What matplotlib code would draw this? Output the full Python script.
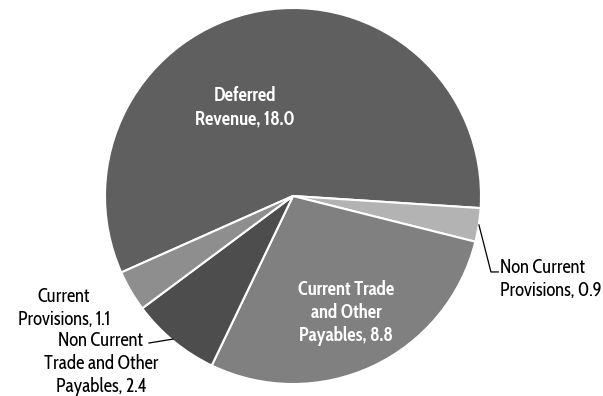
import matplotlib
matplotlib.use("Agg")
import matplotlib.pyplot as plt
from matplotlib import font_manager

# ── Daten ──────────────────────────────────────────────────────────
categories = ["Deferred Revenue", "Non Current Provisions",
              "Current Trade and Other Payables",
              "Non Current Trade and Other Payables", "Current Provisions"]
values = [18.0, 0.9, 8.8, 2.4, 1.1]
label_texts = ["Deferred\nRevenue, 18.0",
               "Non Current\nProvisions, 0.9",
               "Current Trade\nand Other\nPayables, 8.8",
               "Non Current\nTrade and Other\nPayables, 2.4",
               "Current\nProvisions, 1.1"]
colors = ["#5f5f5f", "#b3b3b3", "#808080", "#4d4d4d", "#8e8e8e"]

installed = {f.name for f in font_manager.fontManager.ttflist}
family = next((f for f in ["Cabin Condensed", "Carlito", "Liberation Sans"]
               if f in installed), "DejaVu Sans")
plt.rcParams["font.family"] = [family, "DejaVu Sans"]

fig = plt.figure(figsize=(6.03, 3.96), dpi=100, facecolor="white")
ax = fig.add_axes([0, 0, 1, 1])
# Pixelraster: Mittelpunkt (293,196), Radius 188 px
R = 188.0

ax.pie(values, colors=colors, startangle=204, counterclock=False,
       radius=1.0, center=(0, 0), frame=True,
       wedgeprops=dict(edgecolor="white", linewidth=1.5))
ax.set_aspect("equal")
ax.axis("off")
ax.set_xlim(-293 / R, (603 - 293) / R)
ax.set_ylim(-(396 - 196) / R, 196 / R)

fs = 13.5
ls = 1.2
# ── Innenbeschriftungen ────────────────────────────────────────────
ax.text(-0.255, 0.47, label_texts[0], ha="center", va="center",
        fontsize=fs, color="white", fontweight="bold", linespacing=ls)
ax.text(0.282, -0.62, label_texts[2], ha="center", va="center",
        fontsize=fs, color="white", fontweight="bold", linespacing=ls)

# ── Außenbeschriftungen mit Führungslinien ─────────────────────────
ax.text(1.10, -0.445, label_texts[1], ha="left", va="center",
        fontsize=fs, color="black", linespacing=ls)
ax.plot([0.989, 1.053, 1.092], [-0.154, -0.404, -0.404],
        color="black", lw=0.9)

ax.text(-1.218, -0.60, label_texts[4], ha="center", va="center",
        fontsize=fs, color="black", linespacing=ls)

ax.text(-1.022, -0.895, label_texts[3], ha="center", va="center",
        fontsize=fs, color="black", linespacing=ls)
ax.plot([-0.638, -0.766], [-0.761, -0.782], color="black", lw=0.9)

plt.savefig("out.png", dpi=100, facecolor=fig.get_facecolor())
plt.close(fig)
